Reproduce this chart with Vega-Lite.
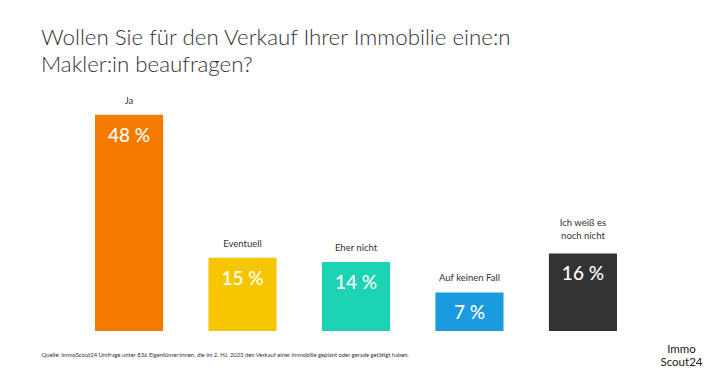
{
  "$schema": "https://vega.github.io/schema/vega-lite/v6.json",
  "autosize": {"type": "none"},
  "width": 630,
  "height": 225,
  "padding": {"left": 41, "top": 106, "right": 39, "bottom": 41},
  "background": "white",
  "title": {
    "text": ["Wollen Sie für den Verkauf Ihrer Immobilie eine:n", "Makler:in beaufragen?"],
    "anchor": "start",
    "frame": "group",
    "font": "Lato",
    "fontSize": 22.3,
    "fontWeight": 300,
    "color": "#333333",
    "lineHeight": 27,
    "offset": 19
  },
  "config": {
    "view": {"stroke": null},
    "font": "Lato"
  },
  "data": {
    "values": [
      {"cat": "Ja", "label": "Ja", "lines": 1, "value": 48, "pct": "48 %"},
      {"cat": "Eventuell", "label": "Eventuell", "lines": 1, "value": 15, "pct": "15 %"},
      {"cat": "Eher nicht", "label": "Eher nicht", "lines": 1, "value": 14, "pct": "14 %"},
      {"cat": "Auf keinen Fall", "label": "Auf keinen Fall", "lines": 1, "value": 7, "pct": "7 %"},
      {"cat": "Ich weiß es noch nicht", "label": "Ich weiß es\nnoch nicht", "lines": 2, "value": 16, "pct": "16 %"}
    ]
  },
  "encoding": {
    "x": {
      "field": "cat",
      "type": "nominal",
      "sort": null,
      "scale": {"paddingInner": 0.4, "paddingOuter": 0.476},
      "axis": {
        "labels": false,
        "ticks": false,
        "domain": false,
        "title": "Quelle: ImmoScout24 Umfrage unter 836 Eigentümer:innen, die im 2. HJ. 2023 den Verkauf einer Immobilie geplant oder gerade getätigt haben.",
        "titleFont": "Lato",
        "titleFontSize": 5.85,
        "titleFontWeight": "normal",
        "titleColor": "#333333",
        "titleX": 0,
        "titleY": 23,
        "titleAlign": "left",
        "titleBaseline": "middle"
      }
    },
    "y": {
      "field": "value",
      "type": "quantitative",
      "scale": {"domain": [-1.9, 50], "zero": false, "nice": false},
      "axis": {
        "orient": "right",
        "labels": false,
        "ticks": false,
        "domain": false,
        "grid": false,
        "title": ["Immo", "Scout24"],
        "titleFont": "Lato",
        "titleFontSize": 11.5,
        "titleFontWeight": "normal",
        "titleColor": "#222222",
        "titleAngle": 0,
        "titleX": 10,
        "titleY": 243,
        "titleAlign": "center",
        "titleBaseline": "middle",
        "titleLineHeight": 13
      }
    }
  },
  "layer": [
    {
      "mark": {"type": "bar"},
      "encoding": {
        "y2": {"datum": -1.9},
        "color": {
          "field": "cat",
          "type": "nominal",
          "legend": null,
          "scale": {
            "domain": ["Ja", "Eventuell", "Eher nicht", "Auf keinen Fall", "Ich weiß es noch nicht"],
            "range": ["#F57A00", "#F7C600", "#1CD3B3", "#1A9BE0", "#333333"]
          }
        }
      }
    },
    {
      "transform": [{"filter": "datum.lines == 1"}],
      "mark": {"type": "text", "baseline": "bottom", "dy": -9, "fontSize": 9.5, "color": "#333333"},
      "encoding": {"text": {"field": "label"}}
    },
    {
      "transform": [{"filter": "datum.lines == 2"}],
      "mark": {"type": "text", "baseline": "bottom", "dy": -25, "fontSize": 9.5, "color": "#333333", "lineBreak": "\n", "lineHeight": 13},
      "encoding": {"text": {"field": "label"}}
    },
    {
      "mark": {"type": "text", "baseline": "middle", "dy": 21, "fontSize": 19, "color": "white", "fontWeight": 500},
      "encoding": {"text": {"field": "pct"}}
    }
  ]
}
